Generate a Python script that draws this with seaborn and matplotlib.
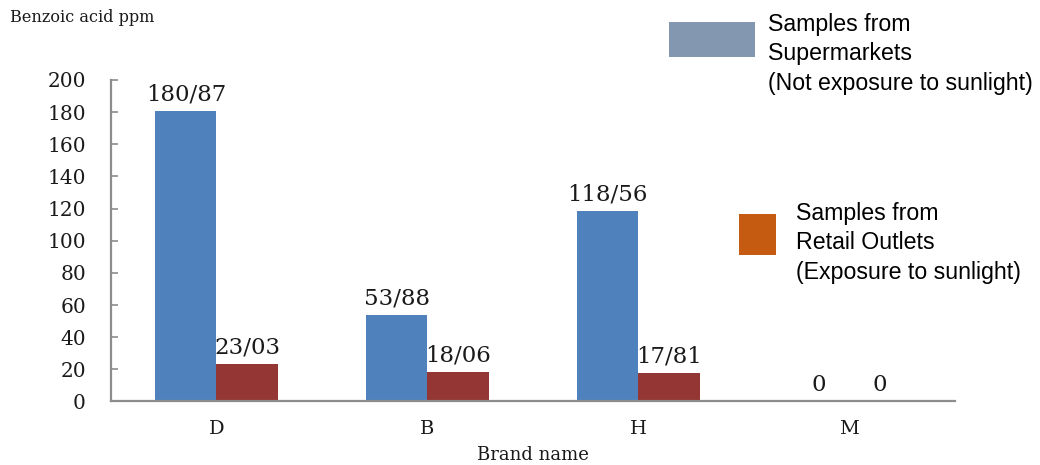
import matplotlib
matplotlib.use("Agg")
import matplotlib.pyplot as plt
from matplotlib.patches import Rectangle
import seaborn as sns
import pandas as pd

# Benzoic acid content (ppm) by brand and sampling place
brands = ["D", "B", "H", "M"]
supermarket_ppm = [180.87, 53.88, 118.56, 0]
retail_ppm = [23.03, 18.06, 17.81, 0]
series_names = ["Supermarkets", "Retail Outlets"]
y_ticks = [0, 20, 40, 60, 80, 100, 120, 140, 160, 180, 200]

bar_colors = ["#4f81bd", "#943634"]
legend_colors = ["#8497b0", "#c55a11"]


def fmt(v):
    # decimal separator written as a slash
    return "0" if v == 0 else f"{v:.2f}".replace(".", "/")


df = pd.DataFrame({
    "Brand": brands * 2,
    "ppm": supermarket_ppm + retail_ppm,
    "Source": [series_names[0]] * len(brands) + [series_names[1]] * len(brands),
})

sns.set_theme(style="white")
plt.rcParams["font.family"] = ["DejaVu Serif"]

fig = plt.figure(figsize=(10.4, 4.65), dpi=100)
ax = fig.add_axes([0.1067, 0.1366, 0.8115, 0.6914])

sns.barplot(data=df, x="Brand", y="ppm", hue="Source", order=brands,
            hue_order=series_names, palette=bar_colors, saturation=1,
            width=0.58, gap=0, legend=False, ax=ax, linewidth=0)

for container, vals in zip(ax.containers, [supermarket_ppm, retail_ppm]):
    ax.bar_label(container, labels=[fmt(v) for v in vals], padding=4,
                 fontsize=16.5, color="#1a1a1a")

ax.set_xlim(-0.5, 3.5)
ax.set_ylim(0, 200)
ax.set_yticks(y_ticks)
ax.set_xlabel("")
ax.set_ylabel("")

for side in ["top", "right"]:
    ax.spines[side].set_visible(False)
for side in ["left", "bottom"]:
    ax.spines[side].set_color("#8c8c8c")
    ax.spines[side].set_linewidth(1.6)

ax.tick_params(axis="y", direction="in", length=5, width=1.2, color="#8c8c8c",
               left=True, pad=18, labelsize=14.5, labelcolor="#1a1a1a")
ax.tick_params(axis="x", length=0, pad=13, labelsize=14, labelcolor="#1a1a1a")

fig.text(0.0096, 0.962, "Benzoic acid ppm", fontsize=11.6, color="#1a1a1a",
         va="center", ha="left")
fig.text(0.5125, 0.021, "Brand name", fontsize=13, color="#1a1a1a",
         va="center", ha="center")

# Legend boxes and captions
legend_font = ["Liberation Sans", "DejaVu Sans"]
fig.patches.append(Rectangle((669 / 1040, 1 - 57 / 465), 86 / 1040, 35 / 465,
                             transform=fig.transFigure, facecolor=legend_colors[0],
                             edgecolor="none"))
fig.text(768 / 1040, 1 - 13 / 465,
         "Samples from\nSupermarkets\n(Not exposure to sunlight)",
         fontsize=16.7, family=legend_font, color="black",
         va="top", ha="left", linespacing=1.36)

fig.patches.append(Rectangle((739 / 1040, 1 - 255 / 465), 37 / 1040, 41 / 465,
                             transform=fig.transFigure, facecolor=legend_colors[1],
                             edgecolor="none"))
fig.text(796 / 1040, 1 - 202 / 465,
         "Samples from\nRetail Outlets\n(Exposure to sunlight)",
         fontsize=16.7, family=legend_font, color="black",
         va="top", ha="left", linespacing=1.36)

fig.savefig("out.png", dpi=100)
